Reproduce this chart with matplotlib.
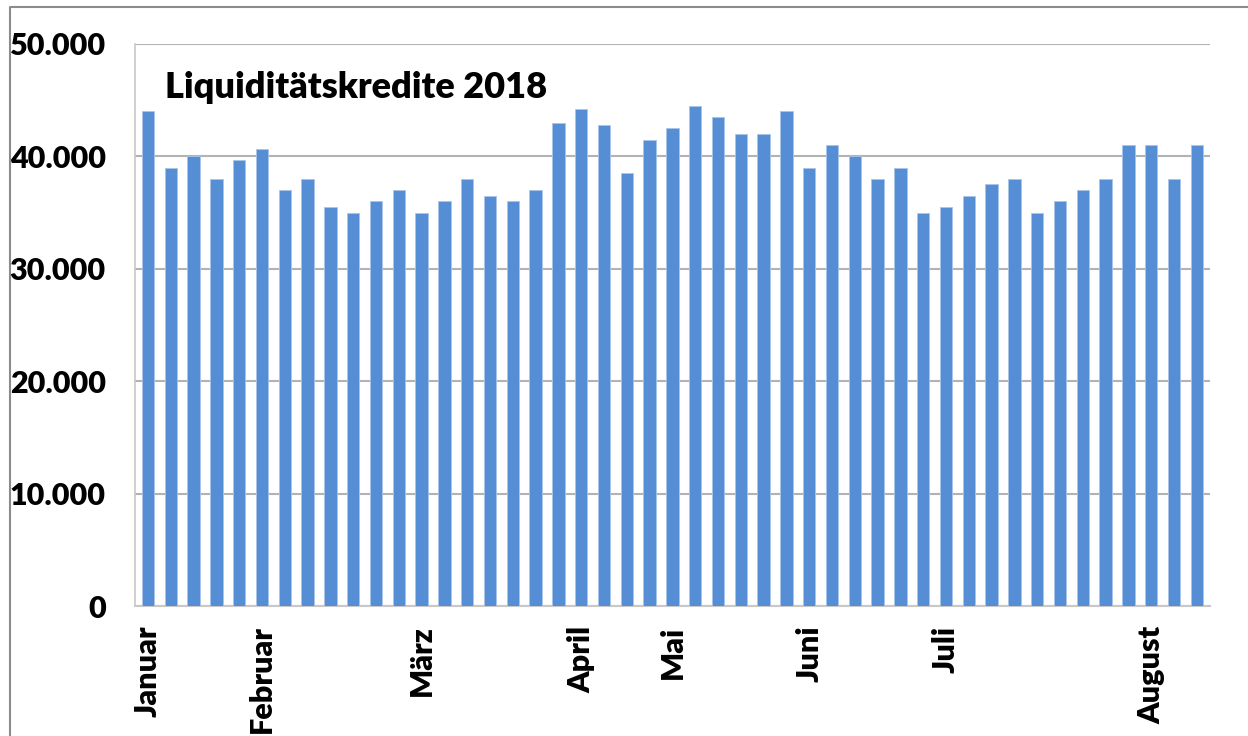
import matplotlib
matplotlib.use('Agg')
import matplotlib.pyplot as plt
from matplotlib.lines import Line2D
from matplotlib.ticker import FuncFormatter

# weekly values (Liquiditätskredite 2018)
values = [44000, 39000, 40000, 38000, 39700, 40700, 37000, 38000, 35500, 35000,
          36000, 37000, 35000, 36000, 38000, 36500, 36000, 37000, 43000, 44200,
          42800, 38500, 41500, 42500, 44500, 43500, 42000, 42000, 44000, 39000,
          41000, 40000, 38000, 39000, 35000, 35500, 36500, 37500, 38000, 35000,
          36000, 37000, 38000, 41000, 41000, 38000, 41000]
month_pos = [0, 5, 12, 19, 23, 29, 35, 44]
month_labels = ['Januar', 'Februar', 'März', 'April', 'Mai', 'Juni', 'Juli', 'August']
y_ticks = [0, 10000, 20000, 30000, 40000, 50000]
title = 'Liquiditätskredite 2018'

plt.rcParams['font.family'] = ['Lato', 'DejaVu Sans']

fig = plt.figure(figsize=(12.48, 7.36), dpi=100)
ax = fig.add_axes([135 / 1248, 1 - 606 / 736, 1075 / 1248, 562 / 736])

x = list(range(len(values)))
ax.bar(x, values, width=0.54, color='#558ed5', edgecolor='#a9c4ea', linewidth=0.6, zorder=3)

ax.set_xlim(-0.57, len(values) - 1 + 0.58)
ax.set_ylim(0, 50000)
ax.set_yticks(y_ticks)
ax.yaxis.set_major_formatter(FuncFormatter(lambda v, p: f'{int(v):,}'.replace(',', '.')))
ax.grid(axis='y', color='#b3b3b3', linewidth=1.5, zorder=0)

ax.set_xticks(month_pos)
ax.set_xticklabels(month_labels, rotation=90, ha='center', va='top')

for lab in ax.get_yticklabels() + ax.get_xticklabels():
    lab.set_fontweight('heavy')
    lab.set_fontsize(22)

ax.tick_params(axis='y', length=0, pad=21)
ax.tick_params(axis='x', length=0, pad=14)

for s in ['top', 'right']:
    ax.spines[s].set_visible(False)
ax.spines['left'].set_color('#c8c8c8')
ax.spines['bottom'].set_color('#c8c8c8')
ax.spines['left'].set_linewidth(1.2)
ax.spines['bottom'].set_linewidth(1.5)

ax.text(0.028, 0.922, title, transform=ax.transAxes, fontsize=26,
        fontweight='heavy', va='center', ha='left')

# outer chart border (top and left edges visible)
fig.add_artist(Line2D([10 / 1248, 10 / 1248, 1.0], [0.0, 1 - 7 / 736, 1 - 7 / 736],
                      transform=fig.transFigure, color='#8c8c8c', linewidth=1.5))

fig.savefig('out.png', dpi=100)
